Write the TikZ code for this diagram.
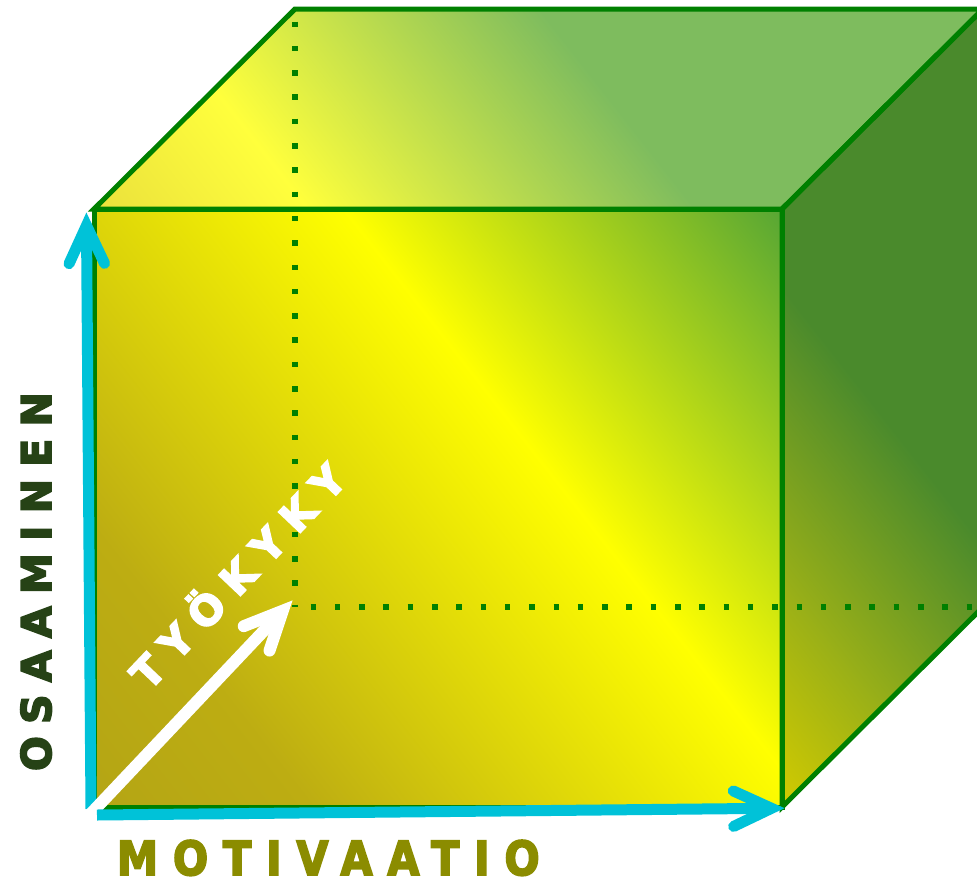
\documentclass[tikz,border=0pt]{standalone}
\usepackage{fontspec}
\usepackage{graphicx}
\usetikzlibrary{calc}
\newfontfamily\lblfont{DejaVu Sans}
\definecolor{cgreen}{HTML}{008000}
\definecolor{ccyan}{HTML}{00C2D8}
\definecolor{cmotiv}{HTML}{8B8C00}
\definecolor{cosaa}{HTML}{264216}
\definecolor{frontOa}{HTML}{B4A515}
\definecolor{frontOb}{HTML}{BDAD12}
\definecolor{cyel}{HTML}{FFFF00}
\definecolor{frontG}{HTML}{55A535}
\definecolor{topA}{HTML}{EAE03C}
\definecolor{topY}{HTML}{FFFF3C}
\definecolor{topG}{HTML}{7EBC5E}
\definecolor{rightY}{HTML}{D2CB00}
\definecolor{rightM}{HTML}{98AF18}
\definecolor{rightG}{HTML}{4A8A2C}
\newcommand\gstrip[4]{\shade[left color=#3,right color=#4] (#1,-3000) rectangle (#2,3000);}
\newcommand\chev[5]{% colour, width, vertex, from, arm length
  \draw[#1, line width=#2, line cap=round, line join=miter, miter limit=10]
    ($(#3)!#5!25:(#4)$) -- (#3) -- ($(#3)!#5!-25:(#4)$);}
\tikzset{
  edgeline/.style={draw=cgreen, line width=5pt, line join=miter},
  hiddenline/.style={draw=cgreen, line width=5.5pt, line cap=butt, dash pattern=on 5.5pt off 18.8pt},
  lbl/.style={inner sep=0pt, outer sep=0pt}
}
\begin{document}
\begin{tikzpicture}[x=1pt,y=-1pt]
\useasboundingbox (0,0) rectangle (977,878);
\clip (0,0) rectangle (977,878);
% cube corners
\coordinate (A) at (94,209);
\coordinate (B) at (782,209);
\coordinate (C) at (782,807);
\coordinate (D) at (94,807);
\coordinate (E) at (295,9);
\coordinate (F) at (983,9);
\coordinate (G) at (983,607);
\coordinate (H) at (295,607);
% top face
\begin{scope}
  \clip (A) -- (E) -- (F) -- (B) -- cycle;
  \begin{scope}[transform canvas={rotate around={38:(0,0)}}]
    \gstrip{-600}{-55}{topA}{topA}
    \gstrip{-56}{115}{topA}{topY}
    \gstrip{114}{420}{topY}{topG}
    \gstrip{419}{820}{topG}{topG}
  \end{scope}
\end{scope}
% right face
\begin{scope}
  \clip (B) -- (F) -- (G) -- (C) -- cycle;
  \begin{scope}[transform canvas={rotate around={38:(0,0)}}]
    \gstrip{-600}{120}{rightY}{rightY}
    \gstrip{119}{260}{rightY}{rightM}
    \gstrip{259}{440}{rightM}{rightG}
    \gstrip{439}{820}{rightG}{rightG}
  \end{scope}
\end{scope}
% front face
\begin{scope}
  \clip (A) -- (B) -- (C) -- (D) -- cycle;
  \begin{scope}[transform canvas={rotate around={38:(0,0)}}]
    \gstrip{-600}{-423}{frontOa}{frontOa}
    \gstrip{-424}{-250}{frontOa}{frontOb}
    \gstrip{-251}{143}{frontOb}{cyel}
    \gstrip{142}{490}{cyel}{frontG}
    \gstrip{489}{820}{frontG}{frontG}
  \end{scope}
\end{scope}
% hidden edges
\draw[hiddenline, dash phase=11.8pt] (E) -- (H);
\draw[hiddenline, dash phase=8.8pt] (H) -- (G);
% visible edges
\draw[edgeline] (A) -- (E) -- (F) -- (B) -- cycle;
\draw[edgeline] (B) -- (F) -- (G) -- (C) -- cycle;
\draw[edgeline] (A) -- (B) -- (C) -- (D) -- cycle;
% vertical cyan arrow
\coordinate (vs) at (91,809);
\coordinate (vt) at (86.5,225.5);
\draw[ccyan, line width=11pt] (vs) -- (vt);
\chev{ccyan}{11pt}{vt}{vs}{42pt}
% white arrow
\coordinate (ws) at (90,814.5);
\coordinate (wt) at (282.8,610.7);
\draw[white, line width=12pt] (ws) -- (wt);
\chev{white}{12pt}{wt}{ws}{42pt}
% horizontal cyan arrow
\coordinate (hs) at (97,815);
\coordinate (ht) at (771.5,808.3);
\draw[ccyan, line width=11pt] (hs) -- (ht);
\chev{ccyan}{11pt}{ht}{hs}{42pt}
% labels
\node[lbl, anchor=base west, text=cmotiv] (mot) at (117,875)
  {\lblfont\bfseries\fontsize{47}{47}\selectfont\scalebox{0.88}[1]{\addfontfeature{LetterSpace=36,FakeBold=4}MOTIVAATIO}};
\node[lbl, anchor=base west, rotate=90, text=cosaa] (osa) at (51,771)
  {\lblfont\bfseries\fontsize{41}{41}\selectfont\addfontfeature{LetterSpace=30,FakeBold=4}OSAAMINEN};
\node[lbl, anchor=base west, rotate=46.5, text=white] (tyo) at (149,692)
  {\lblfont\bfseries\fontsize{41}{41}\selectfont\addfontfeature{LetterSpace=31,FakeBold=4}TYÖKYKY};
\end{tikzpicture}
\end{document}
